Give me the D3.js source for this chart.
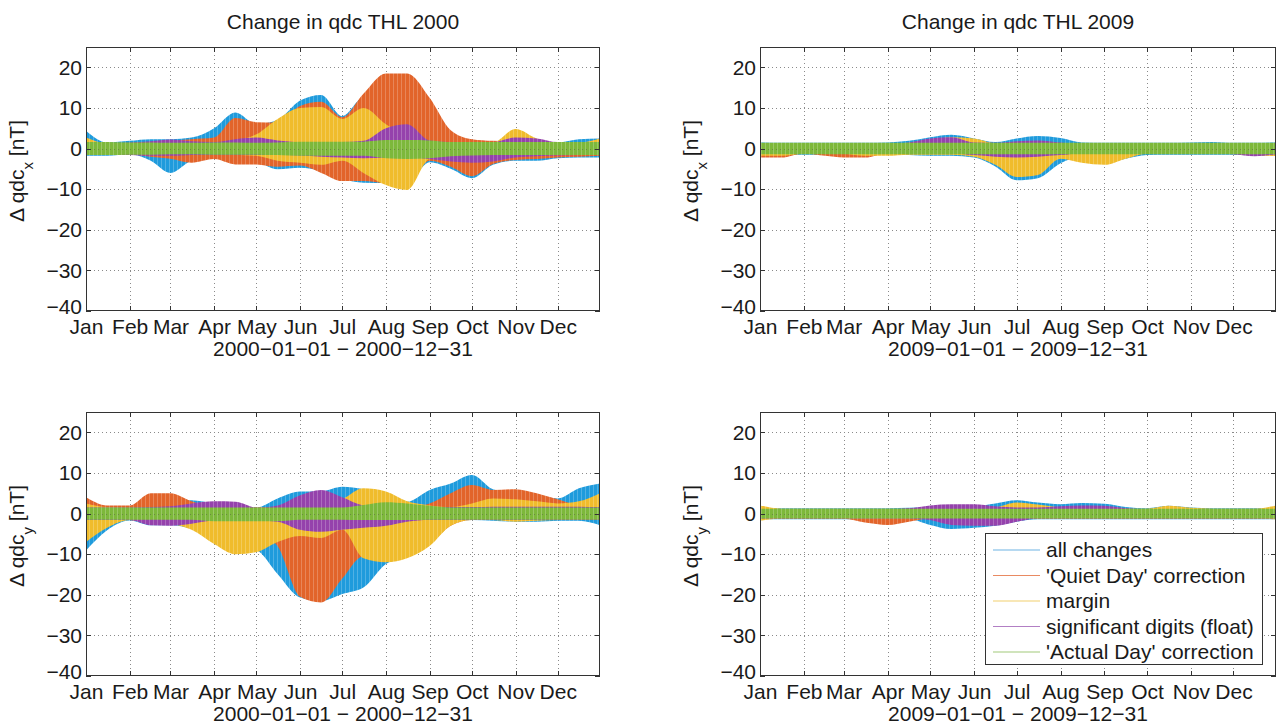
<!DOCTYPE html>
<html><head><meta charset="utf-8">
<script src="https://cdn.jsdelivr.net/npm/d3@7"></script>
<style>body{margin:0;background:#fff} text{font-family:"Liberation Sans",Arial,sans-serif;fill:#1a1a1a}</style>
</head><body><svg id="c" width="1277" height="724"></svg>
<script>
// ---------- data ----------
const monthLabels = ["Jan","Feb","Mar","Apr","May","Jun","Jul","Aug","Sep","Oct","Nov","Dec"];
const yTicks = [-40,-30,-20,-10,0,10,20];
const sampleDates = ["01-01","01-16","02-01","02-16","03-01","03-16","04-01","04-16","05-01","05-16","06-01","06-16",
  "07-01","07-16","08-01","08-16","09-01","09-16","10-01","10-16","11-01","11-16","12-01","12-16","12-31"];
const seriesNames = ["all changes","'Quiet Day' correction","margin","significant digits (float)","'Actual Day' correction"];

// THL 2000, x component (upper / lower envelope of the daily curves)
const x2000_all_hi = [4.4,1.5,1.9,2.3,2.3,2.7,5.0,8.9,6.0,7.0,11.8,13.2,8.0,12.5,12.0,12.0,9.0,3.0,1.5,1.5,1.5,1.5,1.5,2.3,2.5];
const x2000_all_lo = [-1.8,-1.8,-1.4,-3.0,-6.0,-3.0,-2.3,-3.5,-3.5,-5.1,-4.7,-5.5,-7.5,-8.4,-8.5,-8.5,-3.4,-5.0,-7.3,-4.0,-3.0,-3.0,-2.4,-2.2,-2.2];
const x2000_qd_hi = [1.2,1.0,1.3,1.5,1.9,2.3,2.7,7.5,6.5,6.4,10.5,11.5,7.7,13.5,18.5,18.5,12.5,4.5,2.3,1.9,1.8,1.5,1.2,1.2,2.5];
const x2000_qd_lo = [-1.2,-1.3,-1.4,-2.0,-2.5,-3.5,-2.6,-3.9,-3.9,-4.5,-4.2,-6.0,-8.0,-8.0,-8.5,-8.5,-3.0,-4.5,-6.8,-3.8,-2.8,-2.6,-2.2,-2.0,-1.8];
const x2000_mar_hi = [2.7,1.2,1.0,1.0,1.2,1.5,1.5,2.0,3.5,7.3,10.0,10.2,7.3,10.0,6.0,3.0,1.5,1.5,1.5,1.5,4.8,2.5,1.5,1.5,2.5];
const x2000_mar_lo = [-1.5,-1.2,-1.0,-1.0,-1.0,-1.0,-1.2,-1.5,-1.8,-3.0,-3.5,-4.0,-3.0,-6.0,-9.0,-10.2,-2.5,-1.8,-1.5,-1.5,-1.5,-1.5,-1.5,-1.5,-1.5];
const x2000_sig_hi = [1.0,1.2,1.5,1.8,2.2,1.8,1.6,2.3,2.7,2.0,1.6,1.6,1.6,1.9,5.0,6.0,2.0,1.6,1.6,1.6,2.7,2.5,1.6,1.6,1.6];
const x2000_sig_lo = [-1.6,-1.6,-1.6,-1.8,-1.8,-1.6,-1.6,-1.6,-1.6,-1.6,-1.7,-2.0,-2.2,-2.4,-2.2,-2.0,-2.6,-3.2,-3.5,-3.2,-2.2,-1.9,-1.7,-1.6,-1.6];
const x2000_ad_hi = [1.6,1.6,1.5,1.5,1.4,1.4,1.5,1.5,1.4,1.5,1.7,1.7,1.7,1.7,2.1,2.1,2.0,1.6,1.6,1.6,1.6,1.6,1.6,1.6,1.6];
const x2000_ad_lo = [-1.6,-1.6,-1.5,-1.5,-1.4,-1.4,-1.5,-1.5,-1.5,-1.6,-1.8,-1.8,-1.8,-1.8,-2.4,-2.6,-2.4,-1.9,-1.7,-1.6,-1.6,-1.6,-1.6,-1.6,-1.6];

// THL 2000, y component
const y2000_all_hi = [3.0,1.5,1.2,2.0,3.0,3.3,2.5,2.0,1.5,3.7,5.4,5.5,6.6,6.0,4.5,2.9,5.8,7.4,9.5,6.0,5.0,4.5,3.7,6.2,7.4];
const y2000_all_lo = [-9.1,-4.1,-1.7,-2.9,-2.9,-3.7,-5.0,-8.0,-9.0,-14.9,-20.7,-21.5,-19.8,-18.2,-12.4,-10.5,-4.1,-2.1,-1.6,-1.8,-2.0,-2.0,-1.8,-1.8,-2.9];
const y2000_qd_hi = [4.0,2.0,2.0,5.0,5.0,3.0,1.5,1.5,1.5,1.5,2.0,2.0,2.0,1.5,1.5,1.5,2.5,5.0,7.0,5.8,6.0,5.0,3.5,2.0,1.6];
const y2000_qd_lo = [-1.6,-1.6,-1.6,-2.5,-2.5,-2.0,-2.0,-2.0,-4.5,-8.0,-20.5,-21.9,-16.0,-10.5,-10.7,-10.5,-7.5,-3.0,-1.6,-1.6,-1.6,-1.6,-1.6,-1.6,-1.6];
const y2000_mar_hi = [2.5,1.6,1.5,1.5,1.5,1.5,1.5,1.5,1.5,1.5,1.6,1.6,3.5,6.2,5.4,3.0,2.0,1.6,2.5,3.7,3.5,3.0,2.5,3.0,5.0];
const y2000_mar_lo = [-7.0,-3.5,-1.6,-2.0,-2.5,-4.0,-7.5,-10.0,-9.5,-7.0,-5.5,-6.0,-4.0,-11.0,-12.0,-11.0,-8.0,-3.0,-1.6,-1.6,-2.0,-1.8,-1.6,-1.6,-1.6];
const y2000_sig_hi = [1.5,1.5,1.5,1.6,1.8,2.5,3.0,2.9,1.5,2.0,4.5,5.8,4.0,2.0,1.6,1.6,1.6,1.6,1.6,1.7,1.7,1.7,1.7,1.7,1.6];
const y2000_sig_lo = [-1.6,-1.6,-1.6,-2.9,-3.0,-2.5,-1.7,-1.7,-1.7,-2.0,-4.0,-4.5,-4.0,-3.5,-3.0,-2.0,-1.6,-1.6,-1.6,-1.6,-1.6,-1.6,-1.6,-1.6,-1.6];
const y2000_ad_hi = [1.5,1.5,1.5,1.5,1.5,1.5,1.5,1.5,1.5,1.5,1.5,1.5,1.5,2.1,2.8,2.5,1.9,1.5,1.5,1.5,1.5,1.5,1.5,1.5,1.5];
const y2000_ad_lo = [-1.5,-1.5,-1.5,-1.5,-1.5,-1.5,-1.9,-1.9,-1.9,-1.9,-1.5,-1.5,-1.5,-1.6,-1.6,-1.6,-1.5,-1.5,-1.5,-1.5,-1.5,-1.5,-1.5,-1.5,-1.5];

// THL 2009, x component
const x2009_all_hi = [1.5,1.4,1.4,1.4,1.4,1.4,1.5,1.9,2.8,3.4,2.5,1.6,2.5,3.1,2.6,1.5,1.4,1.4,1.4,1.4,1.5,1.6,1.4,1.4,1.5];
const x2009_all_lo = [-1.6,-1.5,-1.5,-1.5,-1.5,-1.5,-1.5,-1.6,-1.8,-1.8,-2.2,-4.4,-7.8,-7.3,-3.6,-2.0,-3.5,-2.5,-1.6,-1.5,-1.5,-1.5,-1.5,-1.6,-1.6];
const x2009_qd_hi = [1.0,1.0,1.0,1.0,1.0,1.0,1.0,1.0,1.0,1.0,1.0,1.0,1.0,1.0,1.0,1.0,1.0,1.0,1.0,1.0,1.0,1.0,1.0,1.0,1.0];
const x2009_qd_lo = [-2.2,-2.2,-1.2,-1.8,-2.2,-2.2,-1.2,-1.2,-1.2,-1.2,-1.2,-1.2,-1.2,-1.2,-1.2,-1.2,-1.2,-1.2,-1.2,-1.2,-1.2,-1.2,-1.2,-1.5,-1.8];
const x2009_mar_hi = [1.2,1.2,1.2,1.2,1.2,1.2,1.2,1.4,2.0,2.8,2.5,1.3,1.2,1.2,1.2,1.2,1.2,1.2,1.2,1.2,1.2,1.2,1.2,1.2,1.2];
const x2009_mar_lo = [-1.8,-1.8,-1.2,-1.2,-1.3,-1.8,-1.8,-1.5,-1.5,-1.5,-2.0,-4.0,-7.0,-6.5,-2.5,-3.5,-4.0,-2.5,-1.3,-1.2,-1.2,-1.2,-1.2,-1.8,-1.8];
const x2009_sig_hi = [1.0,1.0,1.0,1.0,1.0,1.0,1.0,1.5,2.5,2.8,1.5,1.4,1.8,2.0,1.5,1.0,1.0,1.0,1.0,1.0,1.0,1.0,1.0,1.0,1.0];
const x2009_sig_lo = [-1.2,-1.2,-1.2,-1.2,-1.2,-1.2,-1.2,-1.2,-1.2,-1.2,-1.6,-2.0,-2.2,-2.0,-1.6,-1.2,-1.2,-1.2,-1.2,-1.2,-1.2,-1.2,-1.4,-1.9,-1.4];
const x2009_ad_hi = [1.4,1.4,1.4,1.4,1.4,1.4,1.4,1.4,1.4,1.4,1.4,1.4,1.4,1.4,1.4,1.4,1.4,1.4,1.4,1.4,1.4,1.4,1.4,1.4,1.4];
const x2009_ad_lo = [-1.4,-1.4,-1.4,-1.4,-1.4,-1.4,-1.4,-1.4,-1.4,-1.4,-1.4,-1.4,-1.4,-1.4,-1.4,-1.4,-1.4,-1.4,-1.4,-1.4,-1.4,-1.4,-1.4,-1.4,-1.4];

// THL 2009, y component
const y2009_all_hi = [1.4,1.3,1.3,1.3,1.3,1.3,1.3,1.4,1.6,1.8,1.8,2.5,3.3,2.7,2.3,2.6,2.4,1.6,1.3,1.9,1.5,1.3,1.3,1.3,1.3];
const y2009_all_lo = [-1.4,-1.4,-1.4,-1.4,-1.4,-1.4,-1.4,-1.4,-2.8,-3.8,-3.5,-3.0,-2.0,-1.4,-1.4,-1.4,-1.4,-1.4,-1.4,-1.4,-1.4,-1.4,-1.4,-1.4,-1.4];
const y2009_qd_hi = [1.0,1.0,1.0,1.0,1.0,1.0,1.0,1.0,1.0,1.0,1.0,1.0,1.0,1.0,1.0,1.0,1.0,1.0,1.0,1.0,1.0,1.0,1.0,1.0,1.0];
const y2009_qd_lo = [-1.2,-1.2,-1.2,-1.2,-1.3,-2.2,-2.8,-2.0,-1.2,-1.2,-1.2,-1.2,-1.2,-1.2,-1.2,-1.2,-1.2,-1.2,-1.2,-1.2,-1.2,-1.2,-1.2,-1.2,-1.2];
const y2009_mar_hi = [2.0,1.2,1.2,1.2,1.2,1.2,1.2,1.2,1.2,1.2,1.2,1.5,2.7,2.2,1.5,1.2,1.2,1.2,1.2,1.9,1.4,1.2,1.2,1.2,2.0];
const y2009_mar_lo = [-1.8,-1.2,-1.2,-1.2,-1.2,-1.2,-1.2,-1.2,-1.2,-1.2,-1.2,-1.2,-1.2,-1.2,-1.2,-1.2,-1.2,-1.2,-1.2,-1.2,-1.2,-1.2,-1.2,-1.2,-1.4];
const y2009_sig_hi = [1.0,1.0,1.0,1.0,1.0,1.0,1.0,1.3,2.0,2.3,2.3,1.8,1.5,1.5,1.8,2.0,1.9,1.3,1.0,1.0,1.0,1.0,1.0,1.0,1.0];
const y2009_sig_lo = [-1.2,-1.2,-1.2,-1.2,-1.2,-1.2,-1.2,-1.2,-1.6,-2.8,-3.0,-3.0,-2.0,-1.2,-1.2,-1.2,-1.2,-1.2,-1.2,-1.2,-1.2,-1.2,-1.2,-1.2,-1.2];
const y2009_ad_hi = [1.2,1.2,1.2,1.2,1.2,1.2,1.2,1.2,1.2,1.2,1.2,1.2,1.2,1.2,1.2,1.2,1.2,1.2,1.2,1.2,1.2,1.2,1.2,1.2,1.2];
const y2009_ad_lo = [-1.2,-1.2,-1.2,-1.2,-1.2,-1.2,-1.2,-1.2,-1.2,-1.2,-1.2,-1.2,-1.2,-1.2,-1.2,-1.2,-1.2,-1.2,-1.2,-1.2,-1.2,-1.2,-1.2,-1.2,-1.2];

// ---------- styles / layout ----------
const seriesColors = ["#1f9bdc","#e2642a","#f0bc2c","#9542ac","#7db83b"];
const legendColors = ["#6fb3e3","#e98a62","#f2cf6e","#b27fc4","#a2c97a"];
const layout = [
  {year:2000, comp:"x", x0:86,  x1:600,  y0:47,  y1:311},
  {year:2009, comp:"x", x0:760, x1:1276, y0:47,  y1:311},
  {year:2000, comp:"y", x0:86,  x1:600,  y0:412, y1:676},
  {year:2009, comp:"y", x0:760, x1:1276, y0:412, y1:676}
];
const panelData = {
  "x2000":[[x2000_all_hi,x2000_all_lo],[x2000_qd_hi,x2000_qd_lo],[x2000_mar_hi,x2000_mar_lo],[x2000_sig_hi,x2000_sig_lo],[x2000_ad_hi,x2000_ad_lo]],
  "y2000":[[y2000_all_hi,y2000_all_lo],[y2000_qd_hi,y2000_qd_lo],[y2000_mar_hi,y2000_mar_lo],[y2000_sig_hi,y2000_sig_lo],[y2000_ad_hi,y2000_ad_lo]],
  "x2009":[[x2009_all_hi,x2009_all_lo],[x2009_qd_hi,x2009_qd_lo],[x2009_mar_hi,x2009_mar_lo],[x2009_sig_hi,x2009_sig_lo],[x2009_ad_hi,x2009_ad_lo]],
  "y2009":[[y2009_all_hi,y2009_all_lo],[y2009_qd_hi,y2009_qd_lo],[y2009_mar_hi,y2009_mar_lo],[y2009_sig_hi,y2009_sig_lo],[y2009_ad_hi,y2009_ad_lo]]
};

const svg = d3.select("#c");
const FS = 21;
const FONT = "Liberation Sans";

// stripe patterns imitating the dense daily (vertical) oscillation
const defs = svg.append("defs");
seriesColors.forEach((c, i) => {
  const p = defs.append("pattern").attr("id", "pat" + i).attr("patternUnits", "userSpaceOnUse")
    .attr("width", 4).attr("height", 10);
  p.append("rect").attr("width", 4).attr("height", 10).attr("fill", c);
  p.append("rect").attr("x", 1).attr("width", 1).attr("height", 10)
    .attr("fill", d3.interpolateRgb(c, "#ffffff")(0.22));
});

layout.forEach((L, pi) => {
  const yr = L.year;
  const x = d3.scaleUtc().domain([new Date(Date.UTC(yr,0,1)), new Date(Date.UTC(yr,11,31))]).range([L.x0, L.x1]);
  const y = d3.scaleLinear().domain([-40, 25]).range([L.y1, L.y0]);
  const g = svg.append("g");
  const clipId = "clip" + pi;
  defs.append("clipPath").attr("id", clipId)
    .append("rect").attr("x", L.x0).attr("y", L.y0).attr("width", L.x1 - L.x0).attr("height", L.y1 - L.y0);

  const monthTicks = d3.range(12).map(m => new Date(Date.UTC(yr, m, 1)));

  // grid
  const grid = g.append("g").attr("stroke", "#8a8a8a").attr("stroke-width", 1).attr("stroke-dasharray", "1,3");
  monthTicks.slice(1).forEach(t => {
    const px = Math.round(x(t)) + 0.5;
    grid.append("line").attr("x1", px).attr("x2", px).attr("y1", L.y0).attr("y2", L.y1);
  });
  yTicks.slice(1).forEach(v => {
    const py = Math.round(y(v)) + 0.5;
    grid.append("line").attr("x1", L.x0).attr("x2", L.x1).attr("y1", py).attr("y2", py);
  });

  // series areas
  const dates = sampleDates.map(s => new Date(yr + "-" + s + "T00:00:00Z"));
  const area = d3.area().x(d => x(d.t)).y0(d => y(d.lo)).y1(d => y(d.hi)).curve(d3.curveMonotoneX);
  const series = panelData[L.comp + yr];
  const sg = g.append("g").attr("clip-path", "url(#" + clipId + ")");
  series.forEach((s, si) => {
    const pts = dates.map((t, i) => ({t, hi: s[0][i], lo: s[1][i]}));
    sg.append("path").attr("d", area(pts)).attr("fill", "url(#pat" + si + ")");
  });
  // dotted zero gridline stays visible over the data like in the source
  sg.append("line").attr("x1", L.x0).attr("x2", L.x1)
    .attr("y1", Math.round(y(0)) + 0.5).attr("y2", Math.round(y(0)) + 0.5)
    .attr("stroke", "#6a8a40").attr("stroke-dasharray", "1,3").attr("stroke-width", 1);

  // axes via d3
  const xAxis = d3.axisBottom(x).tickValues(monthTicks).tickSize(0).tickPadding(8)
    .tickFormat(d => monthLabels[d.getUTCMonth()]);
  const xa = g.append("g").attr("transform", `translate(0,${L.y1})`).call(xAxis);
  xa.select(".domain").remove();
  xa.selectAll("text").attr("font-size", FS).attr("font-family", FONT).attr("fill", "#1a1a1a");

  const yAxis = d3.axisLeft(y).tickValues(yTicks).tickSize(0).tickPadding(4)
    .tickFormat(d => (d < 0 ? "\u2212" + Math.abs(d) : d));
  const ya = g.append("g").attr("transform", `translate(${L.x0},0)`).call(yAxis);
  ya.select(".domain").remove();
  ya.selectAll("text").attr("font-size", FS).attr("font-family", FONT).attr("fill", "#1a1a1a");
  // lowest label sits slightly raised so it clears the month labels
  ya.selectAll(".tick").filter(d => d === -40).select("text").attr("dy", "0.1em");

  // ticks (inside, all four sides)
  const tk = g.append("g").attr("stroke", "#333").attr("stroke-width", 1);
  monthTicks.forEach(t => {
    const px = Math.round(x(t)) + 0.5;
    tk.append("line").attr("x1", px).attr("x2", px).attr("y1", L.y1).attr("y2", L.y1 - 5);
    tk.append("line").attr("x1", px).attr("x2", px).attr("y1", L.y0).attr("y2", L.y0 + 5);
  });
  yTicks.forEach(v => {
    const py = Math.round(y(v)) + 0.5;
    tk.append("line").attr("x1", L.x0).attr("x2", L.x0 + 5).attr("y1", py).attr("y2", py);
    tk.append("line").attr("x1", L.x1).attr("x2", L.x1 - 5).attr("y1", py).attr("y2", py);
  });

  // box
  g.append("rect").attr("x", L.x0 + 0.5).attr("y", L.y0 + 0.5)
    .attr("width", L.x1 - L.x0 - 1).attr("height", L.y1 - L.y0 - 1)
    .attr("fill", "none").attr("stroke", "#333").attr("stroke-width", 1);

  const cx = (L.x0 + L.x1) / 2;
  // x label
  g.append("text").attr("x", cx).attr("y", L.y1 + 45).attr("text-anchor", "middle").attr("font-size", FS)
    .text(`${yr}\u221201\u221201 \u2212 ${yr}\u221212\u221231`);
  // title (top row only)
  if (L.comp === "x") {
    g.append("text").attr("x", cx).attr("y", 29).attr("text-anchor", "middle").attr("font-size", FS)
      .text(`Change in qdc THL ${yr}`);
  }
  // y label
  const cy = (L.y0 + L.y1) / 2 - 8;
  const yl = g.append("text").attr("transform", `translate(${L.x0 - 62},${cy}) rotate(-90)`)
    .attr("text-anchor", "middle").attr("font-size", FS);
  yl.append("tspan").text("\u0394 qdc");
  yl.append("tspan").attr("baseline-shift", "sub").attr("font-size", 15).text(L.comp);
  yl.append("tspan").text(" [nT]");

  // legend in last panel
  if (pi === 3) {
    const lg = g.append("g");
    lg.append("rect").attr("x", 985.5).attr("y", 533.5).attr("width", 277).attr("height", 131)
      .attr("fill", "#fff").attr("stroke", "#333").attr("stroke-width", 1);
    seriesNames.forEach((n, i) => {
      const ry = 550 + i * 25.5;
      lg.append("line").attr("x1", 993).attr("x2", 1040).attr("y1", ry).attr("y2", ry)
        .attr("stroke", legendColors[i]).attr("stroke-width", 1.2);
      lg.append("text").attr("x", 1046).attr("y", ry).attr("dy", "0.35em").attr("font-size", FS).text(n);
    });
  }
});
</script>
</body></html>
